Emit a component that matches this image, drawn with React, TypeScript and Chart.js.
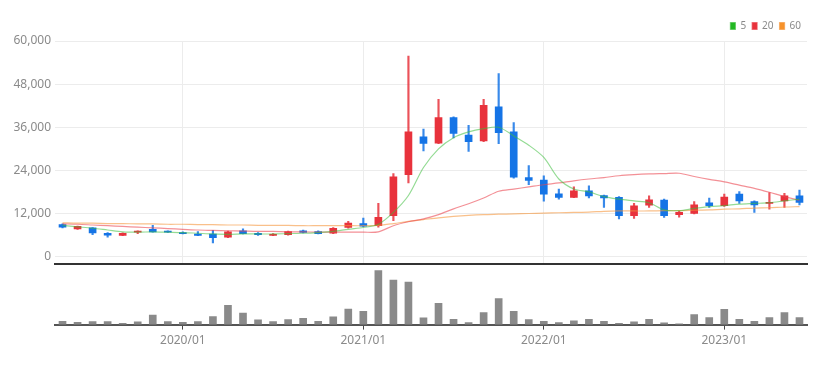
import React, { useEffect, useRef } from 'react';
import { Chart, registerables } from 'chart.js';
Chart.register(...registerables);

const months = [
  '2019/05','2019/06','2019/07','2019/08','2019/09','2019/10','2019/11','2019/12',
  '2020/01','2020/02','2020/03','2020/04','2020/05','2020/06','2020/07','2020/08','2020/09','2020/10','2020/11','2020/12',
  '2021/01','2021/02','2021/03','2021/04','2021/05','2021/06','2021/07','2021/08','2021/09','2021/10','2021/11','2021/12',
  '2022/01','2022/02','2022/03','2022/04','2022/05','2022/06','2022/07','2022/08','2022/09','2022/10','2022/11','2022/12',
  '2023/01','2023/02','2023/03','2023/04','2023/05','2023/06',
];

const open = [8900,7700,8000,6500,5900,6800,7600,7100,6700,6300, 6300,5400,7200,6500,5900,6100,7200,7000,6500,8100, 9200,8600,11400,22800,33300,31600,38700,33800,32200,41700, 34700,22000,21300,17500,16500,18300,17000,16500,11400,14300, 15700,11700,12000,15000,14200,17400,15300,14800,15500,16900];
const close = [8200,8400,6600,6000,6500,7100,6900,6800,6400,5900, 5300,6900,6400,6100,6200,7000,6700,6400,7900,9300, 8500,10900,22200,34700,31500,38700,34300,32000,42100,34500, 22100,21200,17400,16500,18300,16900,16300,11400,14100,15800, 11400,12300,14400,14200,16600,15500,14400,15100,16900,15100];
const high = [9100,8500,8100,6700,6600,7200,8700,7200,6900,7000, 7300,7100,7700,6700,6400,7100,7400,7200,8100,9800, 10700,14800,23100,55800,35500,43800,38900,36500,43800,50900, 37300,25300,22500,18800,19400,19700,17100,16700,14800,16900, 16000,12700,15300,16300,17400,18100,15500,17800,17600,18500];
const low = [8000,7600,6100,5400,5800,6400,6800,6700,6300,5800, 3800,5300,6300,5900,5800,6000,6600,6300,6400,7900, 8300,8200,10000,20500,29400,31400,33000,29300,32000,31400, 21800,20000,15400,16000,16400,16300,13700,10500,10600,13700, 10900,11000,11900,13700,14000,14800,12300,13200,13700,14400];

const ma5 = [8700,8300,7900,7400,6900,6800,6900,6800,6700,6500, 6300,6200,6300,6300,6300,6400,6500,6700,7000,7600, 8100,9000,12300,17000,24800,30000,33100,34700,35600,36000, 33600,31000,27600,21600,18800,18000,16700,16000,15500,15000, 13000,12800,13400,13900,14200,14600,14800,15000,15500,16000];
const ma20 = [9100,9000,8800,8600,8400,8200,8000,7800,7600,7400, 7300,7200,7100,7000,7000,6900,6900,6800,6800,6800, 6800,6900,8600,9700,10500,11700,13300,14700,16300,18200, 18800,19400,20000,20500,21100,21600,22000,22500,22800,23000, 23100,23200,22300,21500,20800,19900,19000,17900,16700,15700];
const ma60 = [9400,9300,9300,9200,9200,9100,9100,9000,9000,8900, 8900,8800,8800,8700,8700,8700,8600,8600,8600,8600, 8600,8700,9200,9800,10300,10800,11200,11500,11700,11800, 11900,12000,12100,12200,12300,12400,12600,12700,12700,12700, 12800,12800,12900,13000,13200,13300,13500,13600,13800,13900];

const volume = [33,23,30,30,13,27,97,30,23,30, 80,193,117,47,30,50,63,33,77,157, 133,543,447,427,67,213,53,20,120,263, 133,50,33,20,37,53,33,13,27,53, 17,7,100,70,153,53,33,70,120,70];

const priceTicks = [0, 12000, 24000, 36000, 48000, 60000];
const maLabels = ['5', '20', '60'];

const FONT = "'Noto Sans', 'Roboto', sans-serif";
const RED = '#e8323c';
const BLUE = '#1574e6';
const TEXT = '#8a8a8a';
const GRID = '#ececec';

export default function App() {
  const priceRef = useRef<HTMLCanvasElement>(null);
  const volRef = useRef<HTMLCanvasElement>(null);

  useEffect(() => {
    const isJan = (i: number) => !!months[i] && months[i].endsWith('/01');
    const bodyColors = months.map((_, i) => (close[i] >= open[i] ? RED : BLUE));
    const wickColors = months.map((_, i) => (close[i] >= open[i] ? 'rgba(232,50,60,0.85)' : 'rgba(21,116,230,0.85)'));
    const font: any = { family: FONT, size: 12 };

    const price = new Chart(priceRef.current!, {
      type: 'bar',
      data: {
        labels: months,
        datasets: [
          { type: 'line', label: '5', data: ma5, borderColor: 'rgba(60,190,60,0.55)', backgroundColor: '#22b822', borderWidth: 1.2, pointRadius: 0, tension: 0.3, order: 0 } as any,
          { type: 'line', label: '20', data: ma20, borderColor: 'rgba(235,70,80,0.6)', backgroundColor: RED, borderWidth: 1.2, pointRadius: 0, tension: 0.3, order: 0 } as any,
          { type: 'line', label: '60', data: ma60, borderColor: 'rgba(245,150,60,0.6)', backgroundColor: '#f7922a', borderWidth: 1.2, pointRadius: 0, tension: 0.3, order: 0 } as any,
          { type: 'bar', label: 'wick', data: months.map((_, i) => [low[i], high[i]]), backgroundColor: wickColors, barThickness: 1.5, grouped: false, order: 2 } as any,
          { type: 'bar', label: 'body', data: months.map((_, i) => [open[i], close[i]]), backgroundColor: bodyColors, barThickness: 7, grouped: false, order: 1 } as any,
        ],
      },
      options: {
        responsive: true,
        maintainAspectRatio: false,
        animation: false,
        events: [],
        layout: { autoPadding: false, padding: { top: 7, right: 14, left: 0, bottom: 2 } },
        plugins: {
          tooltip: { enabled: false },
          legend: {
            position: 'top',
            align: 'end',
            labels: {
              filter: (item: any) => maLabels.includes(item.text),
              boxWidth: 5,
              boxHeight: 7,
              padding: 6,
              color: TEXT,
              font: { family: FONT, size: 10 },
            },
          },
        },
        scales: {
          x: {
            offset: true,
            grid: {
              offset: false,
              drawTicks: false,
              color: (ctx: any) => (isJan(ctx.index) ? GRID : 'rgba(0,0,0,0)'),
            },
            border: { color: '#333', width: 2 },
            ticks: { display: false },
          },
          y: {
            min: -2000,
            max: 60000,
            afterBuildTicks: (s: any) => { s.ticks = priceTicks.map((v) => ({ value: v })); },
            afterFit: (s: any) => { s.width = 47; },
            ticks: { callback: (v: any) => Number(v).toLocaleString('en-US'), color: TEXT, font, padding: 4 },
            grid: { color: GRID, drawTicks: false },
            border: { display: false },
          },
        },
      },
    });

    const vol = new Chart(volRef.current!, {
      type: 'bar',
      data: {
        labels: months,
        datasets: [
          { label: 'volume', data: volume, backgroundColor: '#8a8a8a', barThickness: 7 },
        ],
      },
      options: {
        responsive: true,
        maintainAspectRatio: false,
        animation: false,
        events: [],
        layout: { autoPadding: false, padding: { top: 1, right: 14, left: 0, bottom: 0 } },
        plugins: { legend: { display: false }, tooltip: { enabled: false } },
        scales: {
          x: {
            offset: true,
            grid: {
              offset: false,
              drawOnChartArea: false,
              drawTicks: true,
              tickLength: 5,
              color: 'rgba(0,0,0,0)',
              tickColor: (ctx: any) => (isJan(ctx.index) ? '#444' : 'rgba(0,0,0,0)'),
            },
            border: { color: '#555', width: 2 },
            ticks: {
              autoSkip: false,
              maxRotation: 0,
              callback: (_v: any, i: number) => (isJan(i) ? months[i] : ''),
              color: TEXT,
              font,
              padding: 4,
            },
          },
          y: {
            min: 0,
            max: 590,
            afterFit: (s: any) => { s.width = 47; },
            ticks: { display: false },
            grid: { display: false },
            border: { display: false },
          },
        },
      },
    });

    return () => {
      price.destroy();
      vol.destroy();
    };
  }, []);

  return (
    <div style={{ width: '100%' }}>
      <div style={{ position: 'relative', height: 267 }}>
        <canvas ref={priceRef} />
      </div>
      <div style={{ position: 'relative', height: 87, marginTop: -10 }}>
        <canvas ref={volRef} />
      </div>
    </div>
  );
}
